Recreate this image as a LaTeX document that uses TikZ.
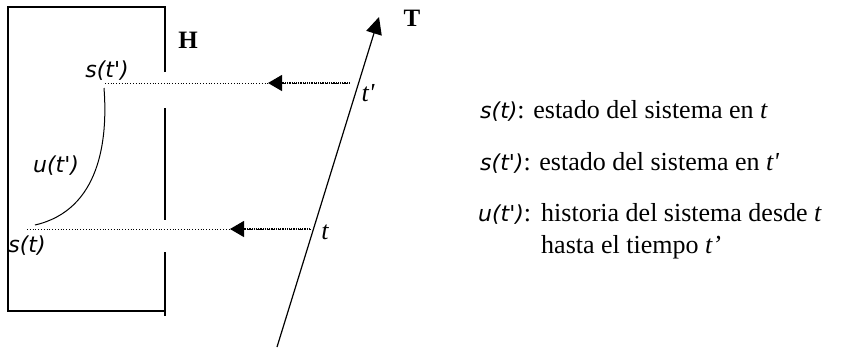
\documentclass[tikz,border=0pt]{standalone}
\usepackage{fontspec}
\setmainfont{Liberation Serif}
\setsansfont{DejaVu Sans}
\usetikzlibrary{arrows.meta,positioning}
\tikzset{
  wall/.style ={line width=1.1pt},
  sysl/.style ={font=\fontsize{22}{24}\selectfont\sffamily\itshape,inner sep=0pt},
  tlbl/.style ={font=\fontsize{26}{28}\selectfont\itshape,inner sep=0pt},
  bold/.style ={font=\fontsize{25}{28}\selectfont\bfseries,inner sep=0pt},
  lbl/.style  ={font=\fontsize{26}{32}\selectfont,inner sep=0pt,anchor=base west},
  proj/.style ={dotted,line width=0.8pt},
  parr/.style ={-{Triangle[length=14pt,width=16pt]},densely dotted,line width=1.2pt},
  taxis/.style={-{Triangle[length=17pt,width=16pt]},line width=1.2pt},
}
\newcommand{\sv}[1]{{\sffamily\itshape\fontsize{22}{24}\selectfont #1}}
\newcommand{\pr}{\textquotesingle}

\begin{document}
\begin{tikzpicture}[x=1pt,y=-1pt]
  \useasboundingbox (0,0) rectangle (842,349);
  % frame of the system H
  \draw[wall] (165,72) -- (165,7) -- (8,7) -- (8,311) -- (165,311);
  \draw[wall] (165,108) -- (165,220);
  \draw[wall] (165,252) -- (165,316);
  \node[bold] (H) at (188,40) {H};
  % time axis
  \coordinate (ax0) at (277,347);
  \coordinate (ax1) at (379,17);
  \draw[taxis] (ax0) -- (ax1);
  \node[bold] (T) at (412,18) {T};
  \node[tlbl] (tp) at (368,93) {t\pr};
  \node[tlbl] (tt) at (325,232) {t};
  % projections of t' and t
  \coordinate (sp) at (105,83);
  \coordinate (ep) at (350,83);
  \coordinate (hp) at (268,83);
  \coordinate (s0) at (27,229);
  \coordinate (e0) at (310,229);
  \coordinate (h0) at (230,229);
  \draw[proj] (sp) -- (ep);
  \draw[parr] (ep) -- (hp);
  \draw[proj] (s0) -- (e0);
  \draw[parr] (e0) -- (h0);
  % history u(t')
  \coordinate (cu) at (104,88);
  \coordinate (cl) at (35,225);
  \draw[line width=1pt] (cu) .. controls (108,140) and (100,210) .. (cl);
  \node[sysl] (stp) at (107,71) {s(t\pr)};
  \node[sysl] (ut)  at (56,166) {u(t\pr)};
  \node[sysl] (st)  at (27,246) {s(t)};
  % legend
  \node[lbl] (l1) at (480,118) {\sv{s(t)}: estado del sistema en \textit{t}};
  \node[lbl] (l2) at (480,170) {\sv{s(t\pr)}: estado del sistema en \textit{t\pr}};
  \node[lbl] (l3) at (478,221) {\sv{u(t\pr)}:};
  \node[lbl,align=left] (l3t) at (541,253) {historia del sistema desde \textit{t}\\hasta el tiempo \textit{t’}};
\end{tikzpicture}
\end{document}
